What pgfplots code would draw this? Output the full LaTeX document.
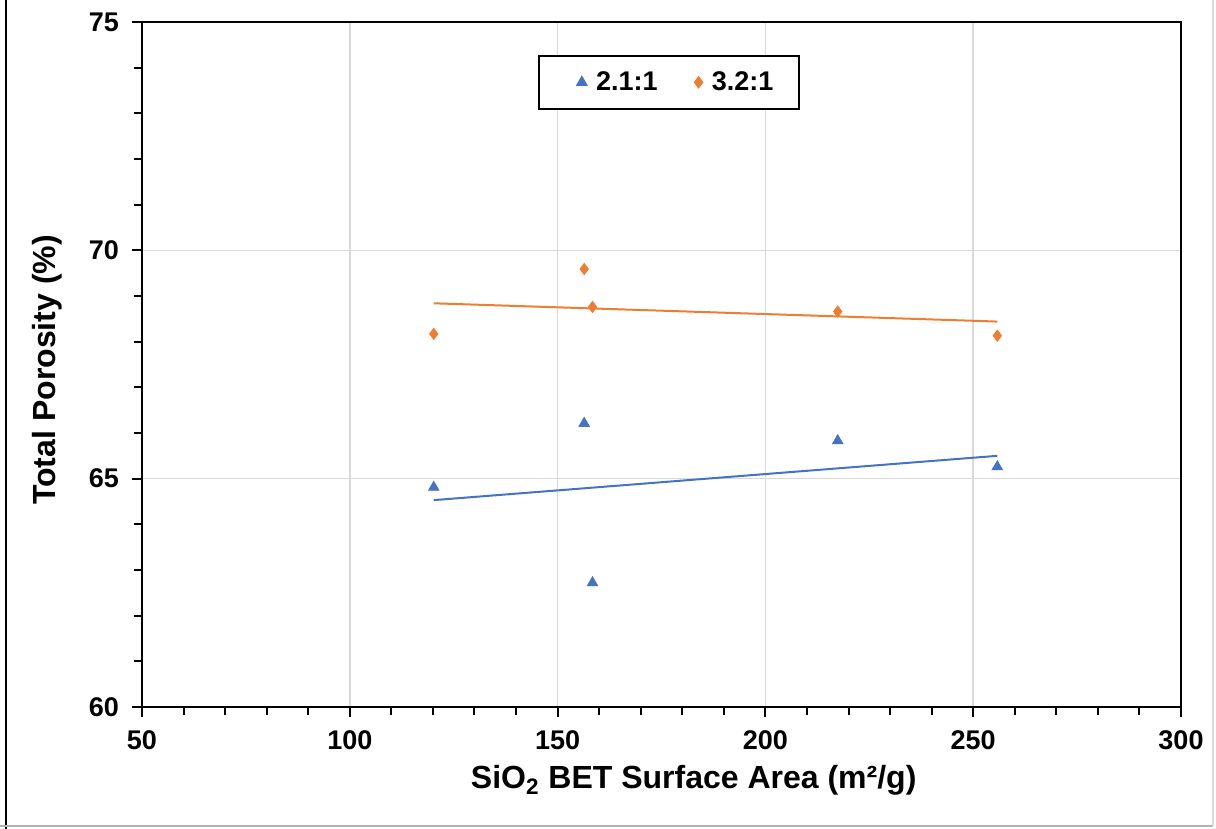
\documentclass[border=0pt]{standalone}
\usepackage{pgfplots}
\pgfplotsset{compat=1.18}
\usepackage{fontspec}
\setmainfont{Liberation Sans}
\definecolor{xlblue}{HTML}{4472C4}
\definecolor{xlorange}{HTML}{ED7D31}
\definecolor{gridgray}{HTML}{D9D9D9}
\begin{document}
\begin{tikzpicture}
\useasboundingbox (-71pt,-61pt) rectangle (537pt,353.5pt);
\begin{axis}[
  at={(0,0)}, anchor=south west,
  scale only axis,
  width=519.5pt, height=342.5pt,
  xmin=50, xmax=300, ymin=60, ymax=75,
  xtick={50,100,...,300}, ytick={60,65,70,75},
  minor x tick num=4, minor y tick num=4,
  tick pos=left, tick align=outside,
  major tick length=5pt, minor tick length=4pt,
  every tick/.style={black, line width=1pt},
  axis line style={black, line width=1pt},
  grid=major,
  major grid style={gridgray, line width=0.75pt},
  /pgf/number format/assume math mode=true,
  ticklabel style={font=\bfseries\fontsize{13.5}{16}\selectfont},
  xticklabel style={yshift=-3.5pt},
  yticklabel style={xshift=-3pt},
  xlabel={SiO\textsubscript{2} BET Surface Area (m²/g)},
  ylabel={Total Porosity (\%)},
  label style={font=\bfseries\fontsize{16}{19}\selectfont},
  xlabel style={at={(axis description cs:0.531,-0.1197)}, anchor=base},
  ylabel style={at={(axis description cs:-0.0914,0.492)}, anchor=center, rotate=0},
  legend columns=-1,
  legend style={at={(0.381,0.952)}, anchor=north west, draw=black, line width=1pt,
    font=\bfseries\fontsize{13.5}{16}\selectfont, inner xsep=11pt, inner ysep=5.75pt,
    /tikz/every odd column/.append style={column sep=2.5pt},
    /tikz/every even column/.append style={column sep=8pt}},
  legend image code/.code={\path (-10pt,0pt); \draw[#1, line width=0.5pt] plot coordinates {(0pt,0pt)};},
]
\addplot[only marks, mark=triangle*, mark size=3pt, color=xlblue] coordinates {
  (120.2,64.81) (156.4,66.21) (158.4,62.72) (217.4,65.83) (255.8,65.26)};
\addlegendentry{2.1:1}
\addplot[only marks, mark=diamond*, mark size=2.8pt, color=xlorange] coordinates {
  (120.2,68.17) (156.4,69.59) (158.4,68.76) (217.4,68.66) (255.8,68.13)};
\addlegendentry{3.2:1}
\addplot[xlblue, line width=1pt, forget plot] coordinates {(120.2,64.53) (255.8,65.50)};
\addplot[xlorange, line width=1pt, forget plot] coordinates {(120.2,68.84) (255.8,68.44)};
\end{axis}
\draw[black, line width=1.2pt] (-68pt,-61pt) -- (-68pt,353.5pt);
\draw[gray!60, line width=0.8pt] (-71pt,-59.5pt) -- (535.5pt,-59.5pt);
\draw[gray!30, line width=0.6pt] (535.5pt,-59.5pt) -- (535.5pt,353.5pt);
\end{tikzpicture}
\end{document}
